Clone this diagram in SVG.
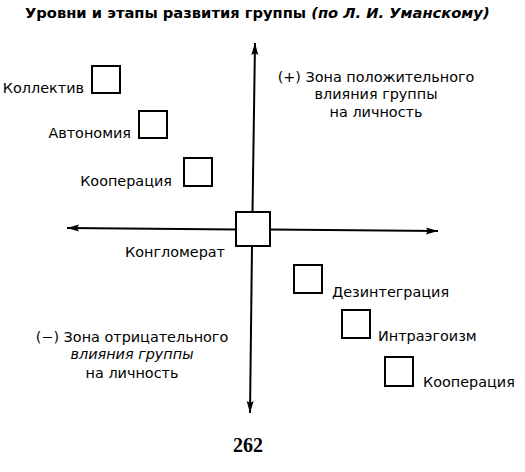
<svg xmlns="http://www.w3.org/2000/svg" width="525" height="472" viewBox="0 0 525 472">
<defs>
<marker id="arr" viewBox="0 0 12 8" refX="12" refY="4" markerWidth="12" markerHeight="8" markerUnits="userSpaceOnUse" orient="auto">
<path d="M0,0.5 L12,4 L0,7.5 L2,4 Z" fill="#000"/>
</marker>
</defs>
<style>
.box{fill:#fff;stroke:#000;stroke-width:2}
.lbl{font-family:"DejaVu Sans","Liberation Sans",sans-serif;font-size:14.4px;fill:#000}
.ax{stroke:#000;stroke-width:2;fill:none}
</style>
<rect width="525" height="472" fill="#fff"/>
<text x="25" y="18" font-family="DejaVu Sans, sans-serif" font-size="14.7" font-weight="bold">Уровни и этапы развития группы <tspan font-style="italic">(по Л. И. Уманскому)</tspan></text>
<g id="connectors">
<line class="ax" x1="252.5" y1="212" x2="255" y2="43" marker-end="url(#arr)"/>
<line class="ax" x1="252" y1="246" x2="250" y2="413" marker-end="url(#arr)"/>
<line class="ax" x1="236" y1="229.5" x2="67" y2="228" marker-end="url(#arr)"/>
<line class="ax" x1="270" y1="229.5" x2="438" y2="231" marker-end="url(#arr)"/>
</g>
<g id="konglomerat"><rect class="box" x="236" y="212" width="34" height="34"/><text class="lbl" x="225" y="257" text-anchor="end">Конгломерат</text></g>
<g id="kollektiv"><rect class="box" x="92" y="66" width="28" height="27"/><text class="lbl" x="84" y="93" text-anchor="end">Коллектив</text></g>
<g id="avtonomiya"><rect class="box" x="139" y="111" width="28" height="27"/><text class="lbl" x="131" y="138" text-anchor="end">Автономия</text></g>
<g id="kooperaciya1"><rect class="box" x="184" y="158" width="28" height="28"/><text class="lbl" x="172" y="186" text-anchor="end">Кооперация</text></g>
<g id="dezintegraciya"><rect class="box" x="294" y="265" width="28" height="28"/><text class="lbl" x="332" y="297">Дезинтеграция</text></g>
<g id="intraegoizm"><rect class="box" x="342" y="310" width="28" height="28"/><text class="lbl" x="378" y="341">Интраэгоизм</text></g>
<g id="kooperaciya2"><rect class="box" x="385" y="357" width="28" height="29"/><text class="lbl" x="423" y="387">Кооперация</text></g>
<g id="zone-plus" class="lbl" text-anchor="middle">
<text x="376" y="82">(+) Зона положительного</text>
<text x="376" y="99">влияния группы</text>
<text x="376" y="117">на личность</text>
</g>
<g id="zone-minus" class="lbl" text-anchor="middle">
<text x="132" y="342">(−) Зона отрицательного</text>
<text x="132" y="359" font-style="italic">влияния группы</text>
<text x="132" y="378">на личность</text>
</g>
<text x="248" y="452" text-anchor="middle" font-family="Liberation Serif, serif" font-size="20" font-weight="bold">262</text>
</svg>
